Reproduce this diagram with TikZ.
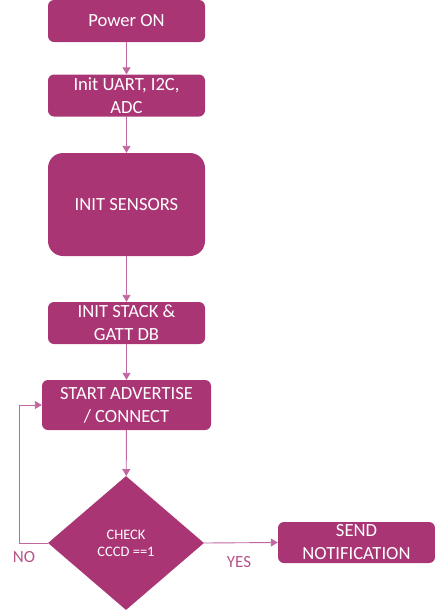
\documentclass[tikz,border=0pt]{standalone}
\usepackage{fontspec}
\setmainfont{Carlito}
\usetikzlibrary{shapes.geometric,arrows.meta}
\definecolor{plum}{HTML}{A93574}
\definecolor{plumline}{HTML}{C266A0}
\tikzset{
  box/.style={draw=none,fill=plum,text=white,rounded corners=6pt,align=center,
    minimum width=157pt,minimum height=42pt,inner sep=0pt,
    font=\fontsize{18.6}{23}\selectfont},
  check/.style={diamond,fill=plum,text=white,align=center,inner sep=0pt,
    minimum width=156pt,minimum height=134pt,
    font=\fontsize{14.5}{17}\selectfont},
  flow/.style={draw=plumline,line width=0.9pt,-{Triangle[length=7pt,width=8pt]}},
  lbl/.style={text=plum!85,font=\fontsize{17}{20}\selectfont}
}
\begin{document}
\begin{tikzpicture}[x=1pt,y=-1pt]
  \useasboundingbox (0,0) rectangle (435,611);
  \node[box] (pwr) at (126.5,21) {Power ON};
  \node[box] (uart) at (126.5,95.5) {Init UART, I2C,\\ADC};
  \node[box,minimum height=103pt,rounded corners=15pt] (sens) at (126.5,204.5) {INIT SENSORS};
  \node[box] (stack) at (126.5,323) {INIT STACK \&\\GATT DB};
  \node[box,minimum width=169pt,minimum height=50pt] (adv) at (126.5,405) {START ADVERTISE\\/ CONNECT};
  \node[check] (chk) at (126,543) {CHECK\\CCCD ==1};
  \node[box,minimum width=157pt,minimum height=41pt] (send) at (356.5,542.5) {SEND\\NOTIFICATION};
  \coordinate (back) at (19,543);

  \draw[flow] (pwr) -- (uart);
  \draw[flow] (uart) -- (sens);
  \draw[flow] (sens) -- (stack);
  \draw[flow] (stack) -- (adv);
  \draw[flow] (adv) -- (chk);
  \draw[flow] (chk.east) -- (send.west);
  \draw[flow] (chk.west) -- (back) |- (adv.west);

  \node[lbl] (no) at (24,557) {NO};
  \node[lbl] (yes) at (239,562) {YES};
\end{tikzpicture}
\end{document}
